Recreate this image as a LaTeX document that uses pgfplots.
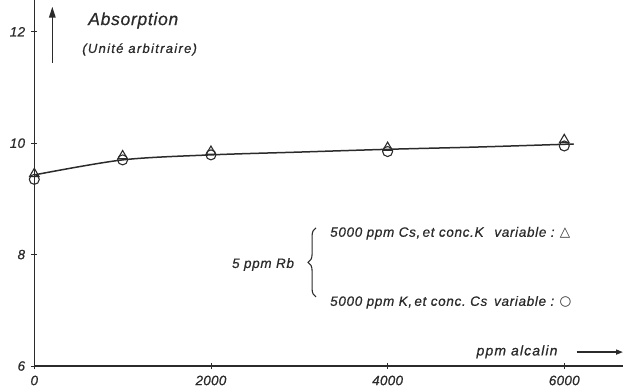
\documentclass[border=0pt]{standalone}
\usepackage{fontspec}
\setmainfont{Liberation Sans}
\newfontfamily\symfont{DejaVu Sans}
\usepackage{pgfplots}
\pgfplotsset{compat=1.18}
\usetikzlibrary{decorations.pathreplacing,arrows.meta}
\definecolor{ink}{gray}{0.17}
\newcommand\lab[2]{\fontsize{#1}{#1}\selectfont\itshape\addfontfeatures{LetterSpace=#2,FakeBold=0.6}}
\begin{document}
\begin{tikzpicture}[x=1pt,y=1pt]
\begin{axis}[
  scale only axis, width=588.7pt, height=366pt,
  xmin=0, xmax=6665, ymin=6, ymax=12.57,
  axis x line=bottom, axis y line=left,
  axis line style={-, line width=1.5pt, ink},
  xtick={0,2000,4000,6000}, xticklabels={0,2000,4000,6000},
  ytick={6,8,10,12}, yticklabels={6,8,10,12},
  tick align=center, major tick length=6pt,
  tick style={line width=0.9pt, ink},
  /pgf/number format/assume math mode=true,
  ticklabel style={font=\lab{13.5}{2}, text=ink},
  xticklabel style={anchor=north, inner sep=0pt, yshift=-6.5pt},
  yticklabel style={anchor=east, inner sep=0pt, xshift=-6pt},
  clip=false,
]
\addplot[smooth, line width=1.5pt, ink] coordinates {
 (0,9.43) (1000,9.70) (2000,9.79) (3000,9.84) (4000,9.89) (5000,9.93) (6000,9.98) (6100,9.985)};
\addplot[only marks, mark=triangle, mark size=5.5pt, mark options={line width=1.1pt, fill=white, draw=ink}] coordinates {
 (0,9.45) (1000,9.77) (2000,9.85) (4000,9.92) (6000,10.06)};
\addplot[only marks, mark=o, mark size=5pt, mark options={line width=1.1pt, fill=white, draw=ink}] coordinates {
 (0,9.35) (1000,9.70) (2000,9.79) (4000,9.85) (6000,9.95)};

\coordinate (bl) at (rel axis cs:0,0);
\coordinate (tr) at (rel axis cs:1,1);
\draw[ink, line width=1.5pt, -{Triangle[length=11pt,width=6.5pt]}] (axis cs:204,11.44) -- (axis cs:204,12.45);
\node[anchor=base west, inner sep=0, font=\lab{17.5}{4}, text=ink] at (axis cs:609,12.12) {Absorption};
\node[anchor=base west, inner sep=0, font=\lab{13}{10}, text=ink] at (axis cs:541,11.62) {(Unité arbitraire)};

\node[anchor=base west, inner sep=0, font=\lab{14}{8}, text=ink] at (axis cs:5005,6.19) {ppm alcalin};
\draw[ink, line width=1.5pt, -{Triangle[length=7pt,width=5pt]}] (axis cs:6140,6.25) -- (axis cs:6665,6.25);

\node[anchor=base west, inner sep=0, font=\lab{13.5}{5}, text=ink] at (axis cs:3348,8.32) {5000 ppm Cs,\,et conc.K\hspace{0.8em}variable :\hspace{0.4em}{\upshape\symfont △}};
\node[anchor=base west, inner sep=0, font=\lab{13.5}{5}, text=ink] at (axis cs:3348,7.08) {5000 ppm K,\,et conc.\ Cs\hspace{0.5em}variable :\hspace{0.4em}{\upshape\symfont ○}};
\node[anchor=base west, inner sep=0, font=\lab{13.5}{5}, text=ink] at (axis cs:2237,7.76) {5 ppm Rb};
\draw[ink, line width=1.1pt, decorate, decoration={brace, amplitude=8pt}] (axis cs:3190,7.24) -- (axis cs:3190,8.48);
\end{axis}
\pgfresetboundingbox
\path[use as bounding box] ([shift={(-34.3pt,-21pt)}]bl) rectangle (tr);
\end{tikzpicture}
\end{document}
